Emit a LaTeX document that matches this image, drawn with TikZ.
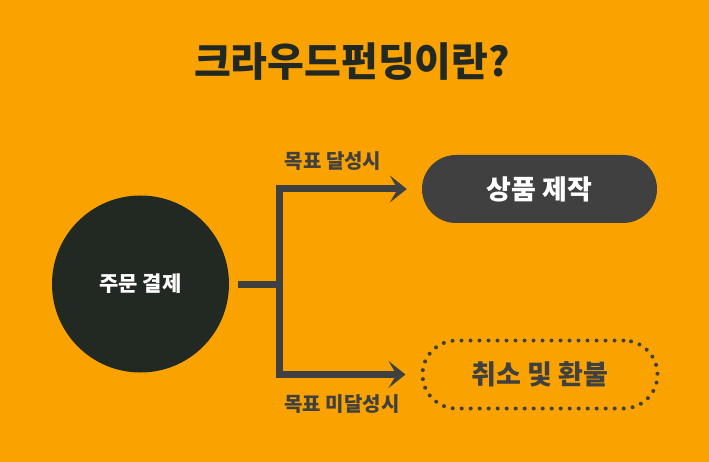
\documentclass[tikz,border=0pt]{standalone}
\usepackage{fontspec}
\setmainfont{Noto Sans CJK KR}
\usetikzlibrary{arrows.meta,positioning}
\definecolor{bgorange}{HTML}{FAA300}
\definecolor{darkcirc}{HTML}{222822}
\definecolor{linegray}{HTML}{404040}
\begin{document}
\begin{tikzpicture}[x=1pt,y=-1pt,>={Stealth[length=17pt,width=27pt,inset=8pt]},
  every node/.style={inner sep=0pt},
  flow/.style={draw=linegray,line width=7pt,line join=miter},
  pill/.style={minimum width=235pt,minimum height=68pt,rounded corners=34pt,font=\bfseries\fontsize{27pt}{30pt}\selectfont},
  cond/.style={text=linegray,font=\bfseries\fontsize{20pt}{24pt}\selectfont}]
\fill[bgorange] (0,0) rectangle (709,462);
\useasboundingbox (0,0) rectangle (709,462);
\node[text=darkcirc,font=\bfseries\fontsize{40pt}{46pt}\selectfont] (title) at (352,62) {크라우드펀딩이란?};
\node[circle,fill=darkcirc,minimum size=177pt,text=white,font=\bfseries\fontsize{21pt}{24pt}\selectfont] (pay) at (140.5,284) {주문 결제};
\node[pill,fill=linegray,text=white] (make) at (539.5,189) {상품 제작};
\node[pill,draw=linegray,line width=4pt,dash pattern=on 0pt off 9pt,line cap=round,text=linegray] (refund) at (540,374.5) {취소 및 환불};
\coordinate (split) at (279.5,284);
\node[cond] (ok) at (333,161) {목표 달성시};
\node[cond] (fail) at (342,404) {목표 미달성시};
\draw[flow] ([xshift=9pt]pay.east) -- (split);
\draw[flow,->] (split) |- ([xshift=-15pt]make.west);
\draw[flow,->] (split) |- ([xshift=-15pt]refund.west);
\end{tikzpicture}
\end{document}
